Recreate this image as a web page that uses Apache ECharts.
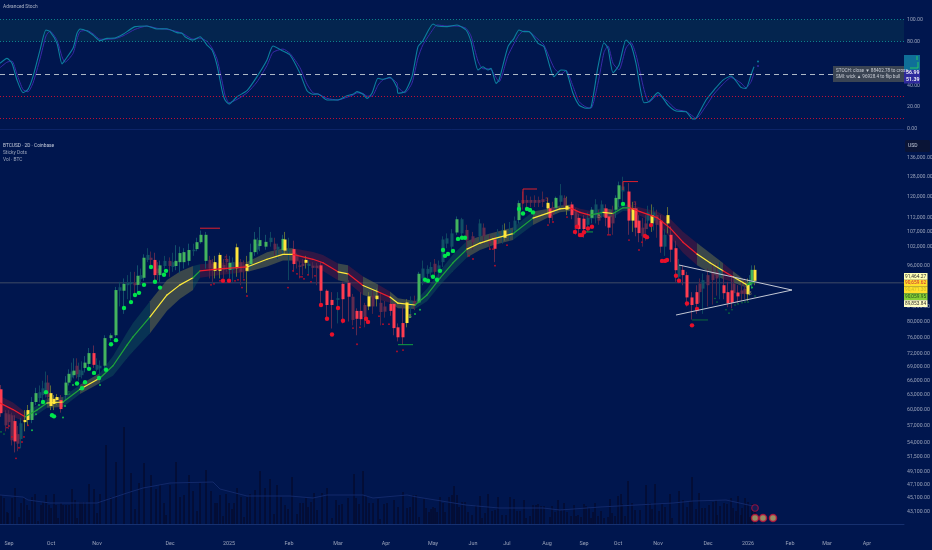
<!DOCTYPE html>
<html><head><meta charset="utf-8">
<style>html,body{margin:0;padding:0;background:#00164e}#c{width:932px;height:550px}</style>
<script src="https://cdn.jsdelivr.net/npm/echarts@6/dist/echarts.min.js"></script>
</head><body><div id="c"></div>
<script>
// ---- x axis ticks (labels sit at irregular positions in the source) ----
const monthPos=[9,51,97,170,229,289,338,386,433,473,507,547,584,618,658,708,748,790,827,867];
const monthLabels=['Sep','Oct','Nov','Dec','2025','Feb','Mar','Apr','May','Jun','Jul','Aug','Sep','Oct','Nov','Dec','2026','Feb','Mar','Apr'];
// ---- y axis ticks ----
const priceTicks=[136000,128000,120000,112000,107000,102000,96000,84000,80000,76000,72000,69000,66000,63000,60000,57000,54000,51500,49100,47100,45100,43100];
const stochTicks=[100,80,40,20,0];
// ---- candles (prices in thousands) ----
const candleX=[1,6,9,12,15,18,21,25,28,32,36,40,43,46,48,51,54,57,61,66,69,72,74,77,79,82,85,89,94,97,100,105,111,116,120,124,128,131,135,138,141,144,148,151,155,158,160,165,170,173,176,180,184,189,194,197,201,206,210,213,215,220,224,227,230,233,237,241,244,247,251,255,258,260,266,271,275,278,283,285,289,294,297,300,303,306,309,313,317,321,327,332,338,343,349,353,357,361,365,369,373,377,381,385,391,394,398,403,407,411,415,419,423,428,431,435,439,443,447,452,457,462,467,473,480,484,490,495,498,503,505,510,515,519,523,527,531,535,539,543,548,550,553,556,561,565,567,572,576,579,584,588,592,596,599,602,606,609,613,616,619,623,629,633,636,639,643,646,648,652,654,657,661,665,668,671,676,679,683,687,692,697,700,703,708,713,717,720,724,728,732,734,738,742,745,748,750,752,755];
const bodyTop=[64.2,59.4,59.2,59,57.9,55.5,57.5,58.1,60,61.6,63.4,63.6,64.4,65.6,65.6,63.4,62.2,62.6,62,65.6,67.5,68,68.2,69.3,68.4,68.2,70,72.2,72.2,69.5,69.3,75.8,76.5,88.6,89.4,90.4,90.7,90.9,90.7,92.8,93,98.4,99.3,98.4,97.7,95,96,97.4,97.4,97,97.4,99.9,100.2,100.9,101,103.5,106,106,97.7,96.5,97,99.3,96.1,98,96.8,97,101.8,97,96,96.4,100.2,104.4,103,104.2,103.6,105,103,102,104.6,104.4,101,101.2,99.4,96,96.5,97.7,96.5,95.9,95.9,96,88.4,85.8,86.3,90.4,90.7,86.7,82.8,82.8,84.4,86.8,87,87,85,84,84.7,84.7,78.5,79.6,85.1,85.5,85.5,93.4,95,94.9,95.5,96.5,96,104.4,104.8,106.5,111.5,111.5,107.7,105.5,110,108.5,104,104.4,106.5,107.5,107.5,107.7,111,117.5,118.7,118.7,118.7,118.7,118.7,119,117.6,115.5,116,119.5,120.5,119.5,116.5,117,114.5,112,111.7,112,115,117,113,117,115.5,112.5,114,119.5,124.5,124,122,115.5,115.5,111,108.5,110,114,113,114,113,111,106,113,106,101.5,96,94.6,93,86.5,88,90.5,91.5,93,94,94,95,90,88,88.5,90.5,87.9,88.5,89,90.1,91,94.6,94.6];
const bodyBottom=[59.4,57.1,57.7,54.4,54.2,53.8,54.6,57.7,58.1,58.1,61.6,62.4,63,63.6,62.6,60.8,61.2,62,60.2,63,65.6,66.7,67.2,67.4,66.8,67.2,68.8,69.7,69.5,68.4,68.7,69.3,75.8,76.5,88.4,88.4,90,90.3,90,90.1,91.8,92.2,97.7,97.7,93,93.6,93,95.8,95.8,95.5,95.8,97,97,97.4,100.5,101.2,103.5,97.4,95,94.5,94.3,94.3,94.6,97,94.6,94.6,95.1,94,95.1,94.3,96.4,100.2,101,102.2,102,103.5,101,101,100.9,100.7,100.5,96.4,97.4,95.5,95.8,96.8,95.8,95.2,95.2,88.4,84.4,84.4,85.8,86,86.7,80.4,80.7,80.6,81.2,84,84,86,82.5,82.6,82.8,78.3,76,76,79.6,84,84.6,85.1,92,93.4,93.8,94,93.8,97,103,102,106.8,106.5,104,103.5,105.5,105.5,103,101.3,104.4,105,105,105.5,107.5,111.2,117.5,117.6,117.6,117.6,117.6,117.9,115.5,112,113.5,115.7,118,116.5,115,113,108,108,108,109.5,112,113,111,114,112,108.5,110,115,119,122,111,111,108.5,106.6,105.5,108,111,110,111,109.5,102,102,110,101,94.5,92.5,93,86.5,84.4,84.7,88,89,90,91.5,92,92.5,87.7,84.9,85,87.7,86.8,87.5,87.5,87.4,90,91.3,91.3];
const highs=[65.1,60,60,59.5,59,57,58.5,60,61,62.6,64.5,65,66,68,67.2,65,63,63.2,63,67,68.5,70,71,71,70,70.3,71.5,73.4,74,71,70.5,76.5,77,89.5,91,92,93,94,94,96,95,99.5,101.5,100.4,100,97,97.5,99,98.5,100,102.5,102,101.5,103,103,105,107.5,107,99,98,99,100,98,99.5,99,98.5,103,98,97.5,99,103,107,105,108.7,106,107,105,103,106,107,105,104,100,97.5,98,99,97.5,97,96.8,97,88.8,88,88,91,91.5,87.5,83.5,88,85,88,89,89,88,85.5,86,85,79.5,84,86,86.8,87,94,97.5,96,97,98,97.5,105.5,106.5,108,112.5,112,109.5,107,111.5,110,106,105.5,108,109.5,110,110.5,112.5,118.5,122,120.5,120,120.5,120,122,119.5,117,118,120,125,120.5,120,118,115.5,113.5,113,114,116,119,115,118.5,117,115,116.5,120.5,126,128,125.4,118,118,113,112,113,116.5,117,116,115,113,108,116,109,104,98,96,94,88,90,92,93.5,95,96,96.5,97,93,91,93,93,90,91,92,92,93,96,96];
const lows=[58.7,56,56.4,53.5,52.3,52.5,53,56,57,57.5,61,61.5,62,62.5,62,60,60,61,59.5,62,65,66,66.5,66.5,66,66.5,67.8,68.5,68.8,68,67,68.8,75.2,76,84,82,86,85,87,88,90,91.3,97,95,91.5,91.5,91,95,92.5,94,94.5,93.5,95,96,99,100.5,103,95,92,91,92,92,92,94,92,91,92.5,90,92,87.8,95,99,99.5,100.5,101,102,99,98,99,99.5,91.5,94,95,92,93,95,93,92,90,85,80.8,78.2,79.5,79.5,80,79,76.5,79,78.5,83,82,84,79,81,81.5,76.5,75,74.2,78.5,82,83,84.8,90,92,92.5,92.5,91.5,95.5,101.5,100,106,105,100,101,103.5,103,101,97,103,103,104,104,106,110,115,115,116,116,116,116,113,110,111,113.5,116,115,113,111.5,106,105.5,105,107,110,110,109.5,112,109,106,106,112,116,118,106,107,105.5,103.5,102,104,108,107,107.5,105,100,99,106.5,97,91,90.5,90,84,80.5,82,85,82,84,84.5,87,86,86,83.8,83.5,85,85,85.5,86,85.5,87,89,90];
const tones=['r','e','e','e','r','e','d','y','y','g','g','d','d','d','e','y','y','y','r','g','g','d','g','e','d','d','g','g','r','d','d','g','g','g','d','g','d','d','e','g','d','g','d','e','r','e','g','d','e','d','g','g','g','g','d','g','g','g','e','e','y','y','e','e','g','d','y','e','e','y','g','g','d','g','g','d','e','d','g','y','d','r','e','e','e','y','d','e','e','r','r','r','d','r','r','e','r','r','e','y','e','y','e','e','r','r','r','r','y','d','e','g','d','d','d','e','d','d','d','d','g','d','e','e','d','e','e','r','d','d','y','d','d','g','e','e','e','e','e','e','y','r','e','g','d','e','y','r','e','r','r','d','g','d','e','d','r','r','e','g','g','d','r','y','r','r','e','e','d','y','d','e','r','d','y','r','r','d','r','r','r','r','e','d','e','e','e','d','r','r','r','e','r','e','e','y','g','g','y'];
// ---- slow average and its ribbon ----
const emaX=[0,13,25,37,47,63,80,100,113,127,133,150,167,180,193,200,220,247,267,283,293,313,323,338,348,363,378,390,398,415,427,440,453,467,480,493,513,533,550,560,570,580,590,603,613,623,630,640,657,670,683,697,710,723,733,747,755];
const emaVal=[61.4,60.1,58.7,60,61.4,61.6,64.2,66.6,69.3,74.1,76.1,81.2,87.2,90.1,92.2,94.3,94.9,95.5,97.9,99.5,99.5,97.9,96.8,94,93.4,89.9,88.1,86.6,84.9,84.4,87.2,92.1,96.8,101.2,103.2,104.6,106.4,111.9,114,115.3,115.7,114,113,114,113.6,115.7,115.7,114.3,112.1,108.4,103.5,99.6,96.8,94.3,92.5,90.1,91];
const emaBandPct=[2.3,2.3,1.6,1.5,1.5,1.6,1.5,1.6,3.2,4.2,4.6,5.2,5,4.4,3.9,2.2,2,1.6,2.3,2,2,2.4,2.6,2.7,2.8,3,2.4,1.8,1.6,1.3,2,2.3,2.7,2.7,2.2,2,2,2.2,1.3,1.1,1,1.2,1.4,1.4,1.2,1,1.1,1.3,2,3,3.4,3.6,3.2,2.6,1.8,1,0.7];
const emaState=['r','r','g','g','y','g','y','g','g','g','g','y','y','y','g','r','r','y','y','y','r','r','r','y','r','y','r','y','y','g','g','g','g','y','y','y','g','y','y','y','r','r','g','y','g','g','r','r','r','r','r','y','y','r','y','g','g'];
// ---- sticky dots ----
const greenDotX=[124,131,135,139,144,155,160,164,166,151,116,111,106,99,94,89,85,82,77,46,43,52,54,425,428,433,437,440,443,445,448,453,458,462,465,519,523,527,530,533,623];
const greenDotY=[83.6,85.2,87.2,87.8,90.1,91,89.3,93.1,94.3,95.5,75.3,74.3,68.4,66.6,67.7,68.6,65.7,64.4,65.4,63.6,61.6,59,58.8,91.6,91.3,92.5,91.6,94.3,100.9,99,99.6,100.6,104.6,105,105,115.3,113.6,115.3,114.9,114,117.2];
const greenSpeckX=[73,65,39,36,63,32,100,420,415,410,752];
const greenSpeckY=[65.1,60.8,61,59.2,58.6,56.2,65.1,83.1,82,81.2,89.3];
const darkSpeckX=[1,4,715,717,726,729,732,735,738,742,745,748,755];
const darkSpeckY=[55.9,55.5,86.2,85.2,83.1,82.2,83.1,84.4,84.7,85,85.2,85.2,86.9];
const redDotX=[223,229,321,327,332,338,343,366,368,575,577,580,582,584,588,592,645,647,651,662,665,667,676,679,687,697,692];
const redDotY=[91.3,91.3,84.4,80.7,76.7,83.6,80.2,80.7,79.9,107,108.8,105.9,105.9,106.9,108.2,108.8,105.6,105.2,109.4,97.4,97.4,97.7,92.8,91.3,84.8,83.3,79];
const redSpeckX=[211,214,220,235,238,244,242,247,288,293,297,300,302,304,16,19,22,12,9,7,24,28,308,311,315,353,357,360,379,383,389,397,403,495,493,490,507,473,469,553,548,567,608,610,629,642,639];
const redSpeckY=[90.1,90.4,91.3,91.3,91.6,91.6,89.3,86.9,89.3,94.3,93.4,92.5,92.5,91.9,51.3,53.1,54.1,55,57,56.7,55,57.1,93.1,91,92.8,78.3,74.3,78.5,81.4,79.3,79.3,72.6,72.9,95.9,101.2,101.2,102.5,98,99,110.5,109.4,112.3,106,106,104.2,103.5,100.9];
// ---- high / low markers: polyline pieces ----
const redMarkX=[[200,220],[523,523,537],[623,623,638]];
const redMarkP=[[108.3,108.3],[117.2,123,123],[122.6,126,126]];
const greenMarkX=[[398,413],[585,593]];
const greenMarkP=[[74.2,74.2],[107,107]];
const darkMarkX=[[692,708]];
const darkMarkP=[[80.4,80.4]];
// ---- triangle drawing ----
const triUpperX=[679,792],triUpperY=[96.1,88.6];
const triLowerX=[676,792],triLowerY=[81.7,88.6];
const lastPriceLine=90.7;
// ---- volume ----
const volX=[1,4,7,8,12,15,19,21,24,27,29,32,35,38,41,43,46,49,51,54,56,58,61,63,66,69,72,75,77,80,82,85,89,94,97,100,106,111,116,124,131,135,139,144,151,156,160,164,166,170,176,180,184,189,193,197,200,206,211,215,217,220,223,226,229,232,234,237,241,244,247,250,255,260,265,270,274,277,281,285,288,292,297,300,303,306,308,311,314,317,322,327,332,336,339,342,348,354,356,359,363,366,369,373,378,380,384,387,394,398,403,407,410,413,416,419,424,426,429,431,433,435,437,440,443,445,449,452,454,457,459,462,465,468,472,476,480,482,485,488,492,495,498,502,506,510,514,517,520,524,526,530,533,536,538,541,544,550,552,555,558,561,564,567,571,574,576,578,581,584,586,589,591,593,595,598,601,604,608,610,612,615,618,621,622,625,628,632,635,640,646,650,652,655,659,662,665,670,672,679,683,687,690,692,696,699,702,705,709,713,716,717,720,724,727,731,733,736,738,741,742,745,748,750,752,755];
const volVal=[29,26,12,11,26,36,7,21,26,19,14,27,30,3,19,22,29,19,16,30,19,6,21,19,19,19,35,24,6,22,22,22,40,35,11,30,79,27,62,97,51,15,41,61,49,35,39,21,9,39,62,27,29,49,33,13,41,54,33,21,21,29,8,30,21,15,21,36,27,7,27,30,34,53,36,45,10,39,27,19,15,47,10,21,21,26,17,22,31,14,31,36,6,24,19,20,26,50,26,20,53,28,21,21,25,5,20,21,24,17,32,16,17,29,29,7,25,16,12,15,17,16,12,27,21,12,27,29,38,29,17,22,22,12,9,19,28,6,11,30,13,14,27,9,9,27,25,13,13,24,6,8,19,19,20,18,18,7,18,12,24,14,21,12,8,19,8,9,7,20,18,16,6,12,21,8,13,6,7,25,11,8,28,30,20,8,43,21,14,14,39,21,15,40,13,20,17,30,6,33,24,17,23,47,15,31,16,16,19,22,24,9,18,21,20,26,16,13,28,9,16,26,22,7,20,20];
const volMaX=[0,23,28,50,97,112,127,143,170,213,220,247,290,313,327,363,373,407,417,466,499,543,560,600,673,693,726,753];
const volMaVal=[29,27,24,21,21,26,31,36,41,42,35,28,28,26,29,29,26,29,27,19,16,16,14,17,21,23,24,18];
// ---- stochastic ----
const stochX=[0,7,12,17,23,28,33,40,46,50,57,62,65,73,77,80,87,93,100,107,115,123,135,147,157,167,177,182,185,193,200,207,212,217,222,225,229,237,247,257,267,273,283,290,300,307,313,318,327,338,347,353,357,363,367,372,378,383,390,397,398,405,412,418,423,433,437,447,457,466,471,478,483,488,491,496,499,508,514,519,524,529,538,544,554,561,566,573,579,586,591,598,604,608,613,619,626,631,636,644,649,658,668,676,686,693,696,706,714,723,731,741,746,751,754];
const stochK=[60,64.5,60,44.7,33.2,36.2,47.8,72.1,90.4,88.9,78.2,59.4,63,73.7,87.4,91.3,89.5,85.8,80.7,82.8,83.1,86.5,93.5,94.1,91.3,91.6,88,87.4,84.3,81.3,84.3,76.7,72.1,58.4,35.6,26.5,22.8,29.5,35,47.8,63,75.8,71.2,67.6,50.8,35,31.7,32,26.5,26.5,30.4,31.7,34.1,31.7,28,32.6,46.3,45.4,47.2,38,32.6,34.1,47.8,75.2,80.7,95.9,94.1,93.5,95,90.4,79.8,53.9,56.9,53.9,55.4,41.7,44.7,75.2,82.8,90.4,88.9,88.9,78.2,75.2,47.8,53.9,53.3,32.6,21.9,18.9,19.8,56.9,78.8,73.7,51.4,58.4,81.3,76.7,60,24,25,33.2,21.9,16.4,15.8,9.1,9.7,26.5,35.6,44.7,48.4,38,37.1,49.3,56.9];
const stochD=[56,61,62,50,36,34,42,64,85,89.5,81,66,61,69,82,89,90,87,82,82,82.5,85,91,94,92,91,89,87.5,86,82,83,80,74,64,44,31,24,27,33,43,58,70,73,69,56,41,33,32,28,26.5,29,31,33,32.5,30,30,40,45,46.5,42,38,33,42,65,77,91,95,94,94,92,85,62,55,55,54.5,47,43,67,78,86,89.5,89,82,76.5,56,50,53.5,39,25,20,19,42,70,76,60,54,74,79,68,36,24.5,31,25,18,16,11.5,9.5,21,32,41,47,42,37.5,43,51];
const stochEndX=[758],stochEndK=[61.6],stochEndD=[57.5];
// ---- small event glyphs at the bottom, and signal letters ----
const eventX=[763,773,755],eventY=[42.27,42.27,42.27];
const eventTopX=[755],eventTopY=[43.66];
const letterX=[226,547,635,69,599,410,750];
const letterY=[98.2,118.7,117.2,63.4,112.3,81.2,87.5];
const letterText=['S','S','S','S','B','B','B'];
const letterInk=['#b01e34','#b01e34','#b01e34','#0c8a46','#b39a5e','#b39a5e','#b39a5e'];
// ---- readout boxes ----
const stochNote=['STOCH: close ▼ 88402.78 to cross','SMI: wick ▲ 96928.4 to flip bull'];
const priceTags=['91,464.27','90,659.62','90,471.30','90,059.95','89,853.84'];
const tagFill=['#ffffb4','#ffdf2b','#ffdf2b','#86cf36','#ffffc4'];
const tagInk=['#2a2a2a','#c81e3c','#c8b820','#24501c','#2a2a2a'];
const stochTags=['56.99','51.39'];
const panelTitles=['Advanced Stoch','BTCUSD · 2D · Coinbase','Sticky Dots','Vol · BTC'];

const bg='#00164e', labelInk='#98a2ba', txt='Roboto, "Liberation Sans", sans-serif';
const COL={g:'#43b45e',r:'#ff3c50',y:'#ffe53c',d:'#115066',e:'#612a4e'};
const WICK={g:'#12506c',r:'#5c2a50',y:'#5c6a3a',d:'#0e4560',e:'#4d2548'};
const k=v=>v*1000;

function candleSeries(tone,asWick){
  const rows=[];
  candleX.forEach((x,i)=>{
    if(tones[i]!==tone)return;
    const up=tone==='g'||tone==='d'||tone==='y';
    const o=k(up?bodyBottom[i]:bodyTop[i]), c=k(up?bodyTop[i]:bodyBottom[i]);
    rows.push(asWick?[x,o,o,k(lows[i]),k(highs[i])]:[x,o,c,k(bodyBottom[i]),k(bodyTop[i])]);
  });
  const col=asWick?WICK[tone]:COL[tone];
  return {type:'candlestick',xAxisIndex:1,yAxisIndex:1,data:rows,barWidth:asWick?1:((tone==='d'||tone==='e')?3:4.4),z:asWick?2:((tone==='d'||tone==='e')?3:4),
    itemStyle:{color:col,color0:col,borderColor:col,borderColor0:col,borderWidth:asWick?1:0},silent:true,animation:false};
}
function dots(xs,ys,size,color,z){
  return {type:'scatter',xAxisIndex:1,yAxisIndex:1,data:xs.map((x,i)=>[x,k(ys[i])]),symbolSize:size,itemStyle:{color,opacity:1},z:z||6,silent:true,animation:false};
}
function marks(xs,ps,color){
  return xs.map((seg,j)=>({type:'line',xAxisIndex:1,yAxisIndex:1,data:seg.map((x,i)=>[x,k(ps[j][i])]),symbol:'none',lineStyle:{color,width:1},z:6,silent:true,animation:false}));
}
const RIB={g:'rgba(20,92,92,.42)',y:'rgba(112,116,72,.52)',r:'rgba(112,26,58,.42)'};
const LINE={g:'#1fa53a',y:'#ffeb3c',r:'#f01c2c'};
const segData=emaX.slice(0,-1).map((x,i)=>[x,k(emaVal[i]),i]);
const P=(api,x,v)=>api.coord([x,k(v)]);
const ribbon={type:'custom',xAxisIndex:1,yAxisIndex:1,z:1.5,silent:true,animation:false,clip:true,
  data:segData,encode:{x:0,y:1},
  renderItem(p,api){
    const i=api.value(2),a=emaVal[i],b=emaVal[i+1],pa=emaBandPct[i]/100,pb=emaBandPct[i+1]/100;
    return {type:'polygon',shape:{points:[P(api,emaX[i],a*(1+pa)),P(api,emaX[i+1],b*(1+pb)),P(api,emaX[i+1],b*(1-pb)),P(api,emaX[i],a*(1-pa))]},style:{fill:RIB[emaState[i]]}};
  }};
const emaLine={type:'custom',xAxisIndex:1,yAxisIndex:1,z:5,silent:true,animation:false,clip:true,
  data:segData,encode:{x:0,y:1},
  renderItem(p,api){
    const i=api.value(2),q=P(api,emaX[i],emaVal[i]),w=P(api,emaX[i+1],emaVal[i+1]);
    return {type:'line',shape:{x1:q[0],y1:q[1],x2:w[0],y2:w[1]},style:{stroke:LINE[emaState[i]],lineWidth:1.2,lineCap:'round'}};
  }};
const tagTop=273,tagH=6.8;
const graphics=[
  {type:'text',left:3,top:4,style:{text:panelTitles[0],fill:'#aeb6c8',font:'4.8px '+txt}},
  {type:'text',left:3,top:143.5,style:{text:panelTitles[1],fill:'#c6cddc',font:'4.8px '+txt}},
  {type:'text',left:3,top:150.5,style:{text:panelTitles[2],fill:'#9ca6bc',font:'4.8px '+txt}},
  {type:'text',left:3,top:157.5,style:{text:panelTitles[3],fill:'#9ca6bc',font:'4.8px '+txt}},
  {type:'rect',shape:{x:905,y:140,width:25,height:12,r:1.5},style:{fill:'#0a1436'},z:20},
  {type:'text',left:908,top:143.5,z:21,style:{text:'USD',fill:'#c6cddc',font:'5px '+txt}},
  {type:'rect',shape:{x:833,y:66,width:71,height:16},style:{fill:'#3a4453'},z:20},
  {type:'text',left:836,top:68,z:21,style:{text:stochNote[0],fill:'#c8ccd4',font:'4.6px '+txt}},
  {type:'text',left:836,top:74.5,z:21,style:{text:stochNote[1],fill:'#c8ccd4',font:'4.6px '+txt}},
  {type:'rect',shape:{x:904,y:55,width:16,height:15},style:{fill:'#0f6f98'},z:20},
  {type:'rect',shape:{x:904,y:70,width:16,height:13.5},style:{fill:'#2f2a9c'},z:20},
  {type:'polyline',shape:{points:[[917,60],[917,56]]},style:{stroke:'#27c860',lineWidth:1},z:21},
  {type:'polyline',shape:{points:[[918,62],[918,68],[910,68]]},style:{stroke:'#27c860',lineWidth:1},z:21},
  {type:'text',left:906,top:70.5,z:21,style:{text:stochTags[0],fill:'#e6e6f2',font:'bold 5.2px '+txt}},
  {type:'text',left:906,top:77,z:21,style:{text:stochTags[1],fill:'#e6e6f2',font:'bold 5.2px '+txt}},
  ...priceTags.flatMap((t,i)=>[
    {type:'rect',shape:{x:904,y:tagTop+i*tagH,width:23.5,height:tagH},style:{fill:tagFill[i]},z:20},
    {type:'text',left:905,top:tagTop+i*tagH+1,z:21,style:{text:t,fill:tagInk[i],font:'4.8px '+txt}}
  ])
];
const axisCommon={axisLine:{show:false},axisTick:{show:false},splitLine:{show:false}};
const option={
  backgroundColor:bg,animation:false,
  graphic:graphics,
  grid:[
    {left:0,top:0,width:904,height:138,outerBoundsMode:'none'},
    {left:0,top:139,width:904,height:385,outerBoundsMode:'none'},
    {left:0,top:424,width:904,height:100,outerBoundsMode:'none'}
  ],
  xAxis:[
    {type:'value',gridIndex:0,min:0,max:904,...axisCommon,axisLine:{show:true,lineStyle:{color:'#0c2468',width:1}},axisLabel:{show:false}},
    {type:'value',gridIndex:1,min:0,max:904,...axisCommon,axisLine:{show:true,lineStyle:{color:'#16306f',width:1}},
      axisLabel:{customValues:monthPos,formatter:v=>monthLabels[monthPos.indexOf(v)]||'',color:labelInk,fontSize:5.4,fontFamily:'Roboto',margin:17,hideOverlap:false,showMinLabel:true,showMaxLabel:true}},
    {type:'value',gridIndex:2,min:0,max:904,show:false}
  ],
  yAxis:[
    {type:'value',gridIndex:0,min:-8.2,max:117.8,position:'right',...axisCommon,
      axisLabel:{customValues:stochTicks,formatter:v=>v.toFixed(2),color:labelInk,fontSize:5.2,fontFamily:'Roboto',margin:3}},
    {type:'log',gridIndex:1,logBase:10,min:41453,max:144680,position:'right',...axisCommon,
      axisLabel:{customValues:priceTicks,formatter:v=>v.toLocaleString('en-US',{minimumFractionDigits:2,maximumFractionDigits:2}),color:labelInk,fontSize:5.2,fontFamily:'Roboto',margin:3}},
    {type:'value',gridIndex:2,min:0,max:100,show:false}
  ],
  series:[
    // stochastic panel
    {type:'line',xAxisIndex:0,yAxisIndex:0,data:stochX.map((x,i)=>[x,stochD[i]]),symbol:'none',smooth:0.2,lineStyle:{color:'#3a2aa8',width:1},z:3,silent:true,
      markArea:{silent:true,itemStyle:{color:'#04254f'},data:[[{yAxis:80},{yAxis:100}]]},
      markLine:{silent:true,symbol:'none',label:{show:false},data:[
        {yAxis:100,lineStyle:{color:'#0d7f8c',type:[1,2],width:1}},
        {yAxis:80,lineStyle:{color:'#0d7f8c',type:[1,2],width:1}},
        {yAxis:50,lineStyle:{color:'#aeb8c6',type:[5,4],width:1}},
        {yAxis:30,lineStyle:{color:'#c01034',type:[1,2],width:1}},
        {yAxis:10,lineStyle:{color:'#c01034',type:[1,2],width:1}}]}},
    {type:'line',xAxisIndex:0,yAxisIndex:0,data:stochX.map((x,i)=>[x,stochK[i]]),symbol:'none',smooth:0.2,lineStyle:{color:'#0c80a0',width:1.1},z:4,silent:true},
    {type:'scatter',xAxisIndex:0,yAxisIndex:0,data:stochEndX.map((x,i)=>[x,stochEndK[i]]),symbolSize:2,itemStyle:{color:'#0c80a0',opacity:1},silent:true},
    {type:'scatter',xAxisIndex:0,yAxisIndex:0,data:stochEndX.map((x,i)=>[x,stochEndD[i]]),symbolSize:2,itemStyle:{color:'#3a2aa8',opacity:1},silent:true},
    // volume panel
    {type:'bar',xAxisIndex:2,yAxisIndex:2,data:volX.map((x,i)=>[x,volVal[i]]),barWidth:1.2,itemStyle:{color:'#060a28'},z:1,silent:true},
    {type:'line',xAxisIndex:2,yAxisIndex:2,data:volMaX.map((x,i)=>[x,volMaVal[i]]),symbol:'none',lineStyle:{color:'#12296a',width:1},z:1,silent:true},
    // price panel
    {type:'line',xAxisIndex:1,yAxisIndex:1,data:[[0,k(lastPriceLine)],[904,k(lastPriceLine)]],symbol:'none',lineStyle:{color:'#3e4a66',width:1},z:1,silent:true},
    ribbon,emaLine,
    ...['d','e','g','r','y'].map(t=>candleSeries(t,true)),
    ...['d','e','g','r','y'].map(t=>candleSeries(t,false)),
    dots(greenDotX,greenDotY,4.4,'#00e64d'),
    dots(greenSpeckX,greenSpeckY,2,'#12b84c'),
    dots(darkSpeckX,darkSpeckY,1.6,'#0c7a3a'),
    dots(redDotX,redDotY,4.4,'#e8102a'),
    dots(redSpeckX,redSpeckY,1.8,'#c00c28'),
    ...marks(redMarkX,redMarkP,'#e0202c'),
    ...marks(greenMarkX,greenMarkP,'#12a040'),
    ...marks(darkMarkX,darkMarkP,'#0c6a3a'),
    {type:'line',xAxisIndex:1,yAxisIndex:1,data:triUpperX.map((x,i)=>[x,k(triUpperY[i])]),symbol:'none',lineStyle:{color:'#c4c8d4',width:1},z:7,silent:true},
    {type:'line',xAxisIndex:1,yAxisIndex:1,data:triLowerX.map((x,i)=>[x,k(triLowerY[i])]),symbol:'none',lineStyle:{color:'#c4c8d4',width:1},z:7,silent:true},
    {type:'scatter',xAxisIndex:1,yAxisIndex:1,data:letterX.map((x,i)=>({value:[x,k(letterY[i])],label:{formatter:letterText[i],color:letterInk[i]}})),symbolSize:0,label:{show:true,position:'inside',fontSize:5.5,fontFamily:'Roboto'},z:8,silent:true},
    {type:'scatter',xAxisIndex:1,yAxisIndex:1,data:eventX.map((x,i)=>[x,k(eventY[i])]),symbolSize:7,itemStyle:{color:'#b9ad6a',borderColor:'#c0103a',borderWidth:1.5},z:8,silent:true},
    {type:'scatter',xAxisIndex:1,yAxisIndex:1,data:eventTopX.map((x,i)=>[x,k(eventTopY[i])]),symbolSize:6.5,itemStyle:{color:'#1a1e58',borderColor:'#b01040',borderWidth:1.2},z:9,silent:true}
  ]
};
const chart=echarts.init(document.getElementById('c'),null,{renderer:'canvas'});
chart.setOption(option);
</script></body></html>
